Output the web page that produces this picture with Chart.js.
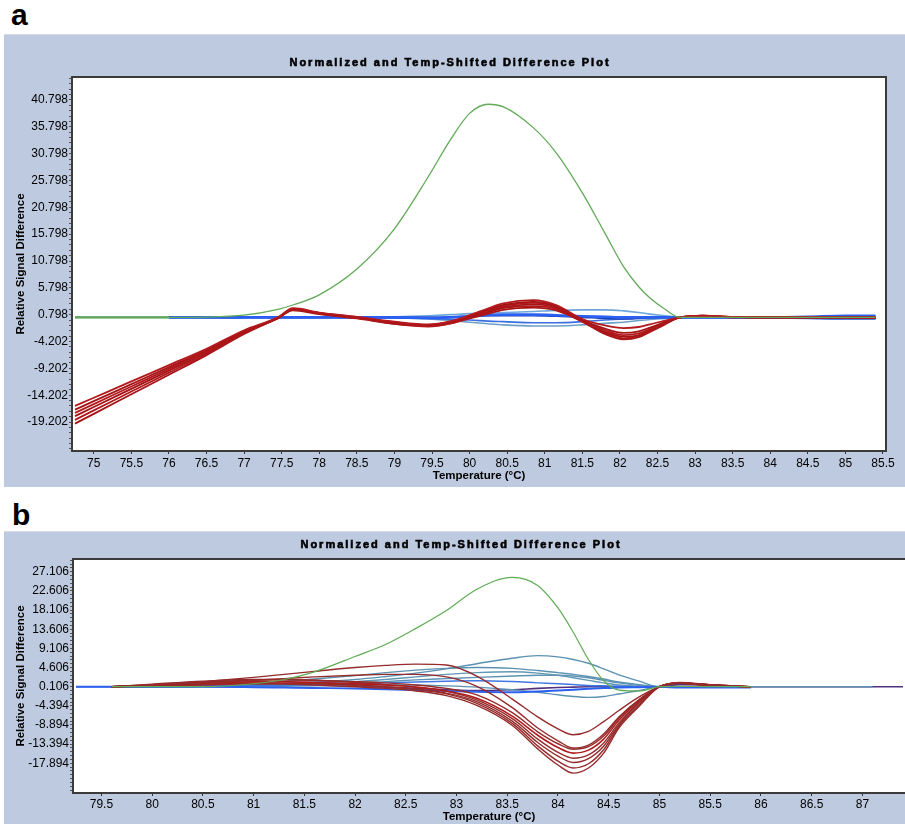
<!DOCTYPE html>
<html>
<head>
<meta charset="utf-8">
<script src="https://cdn.jsdelivr.net/npm/chart.js@4.4.1/dist/chart.umd.min.js"></script>
<style>
  html, body { margin: 0; padding: 0; background: #ffffff; width: 905px; height: 824px; overflow: hidden; }
  .tag { position: absolute; font: bold 30px "Liberation Sans", Arial, sans-serif; line-height: 30px; color: #000; }
  .panel { position: absolute; left: 4px; width: 901px; background: #bdcadf; border-top: 1px solid #d6dae2; }
  #pa { top: 34px; height: 452px; }
  #pb { top: 531px; height: 292px; }
  canvas { display: block; }
</style>
</head>
<body>
<div class="tag" style="left:11px; top:0px;">a</div>
<div class="tag" style="left:12px; top:500px;">b</div>
<div class="panel" id="pa"><canvas id="ca" width="901" height="452"></canvas></div>
<div class="panel" id="pb"><canvas id="cb" width="901" height="292"></canvas></div>
<script>
// ---------- Panel a: temperatures (°C) and difference curves ----------
const tempA = [74.75, 75, 75.5, 76, 76.5, 77, 77.45, 77.65, 78, 78.5, 79, 79.45, 79.75, 80, 80.25, 80.45, 80.85, 81.15, 81.5, 81.8, 82.05, 82.25, 82.4, 82.6, 82.8, 83.1, 83.5, 84, 84.5, 85, 85.4];

const greenA = [0.3, 0.3, 0.3, 0.3, 0.35, 0.7, 1.8, 2.6, 4.5, 9.3, 16.8, 26.5, 33.5, 38.3, 40.0, 39.5, 35.6, 31.0, 23.5, 16.0, 9.7, 6.0, 3.9, 1.8, 0.3, 0.3, 0.3, 0.3, 0.3, 0.3, 0.3];

const redA1 = [-16.2, -14.68, -11.64, -8.61, -5.57, -2.1, 0.3, 2.0, 1.2, 0.4, -0.5, -1.0, -0.4, 0.7, 2.0, 2.9, 3.5, 2.6, 0.0, -1.2, -1.7, -1.5, -1.0, -0.3, 0.3, 0.6, 0.4, 0.3, 0.3, 0.3, 0.2];
const redA2 = [-16.9, -15.32, -12.15, -8.98, -5.82, -2.3, 0.2, 1.9, 1.1, 0.3, -0.6, -1.1, -0.5, 0.5, 1.8, 2.6, 3.2, 2.4, -0.2, -1.8, -2.6, -2.3, -1.6, -0.6, 0.3, 0.6, 0.4, 0.3, 0.3, 0.3, 0.3];
const redA3 = [-17.5, -15.86, -12.58, -9.30, -6.03, -2.4, 0.2, 1.8, 1.0, 0.2, -0.7, -1.3, -0.7, 0.4, 1.6, 2.4, 3.0, 2.3, -0.3, -2.1, -3.0, -2.7, -1.9, -0.7, 0.3, 0.5, 0.4, 0.3, 0.3, 0.4, 0.3];
const redA4 = [-18.1, -16.41, -13.02, -9.63, -6.24, -2.5, 0.1, 1.7, 1.1, 0.3, -0.8, -1.2, -0.6, 0.3, 1.4, 2.2, 2.7, 2.1, -0.4, -2.4, -3.3, -3.0, -2.1, -0.8, 0.3, 0.6, 0.3, 0.3, 0.3, 0.3, 0.2];
const redA5 = [-18.8, -17.04, -13.52, -10.0, -6.49, -2.6, 0.2, 1.8, 1.0, 0.2, -0.9, -1.4, -0.8, 0.2, 1.2, 2.0, 2.4, 1.9, -0.5, -2.6, -3.6, -3.2, -2.3, -0.9, 0.3, 0.5, 0.4, 0.3, 0.3, 0.3, 0.3];
const redA6 = [-19.5, -17.68, -14.03, -10.38, -6.73, -2.8, 0.2, 1.6, 0.9, 0.1, -0.9, -1.3, -0.8, 0.1, 1.0, 1.7, 2.1, 1.6, -0.5, -2.8, -3.8, -3.4, -2.4, -1.0, 0.3, 0.5, 0.3, 0.3, 0.3, 0.3, 0.2];

const blueA1 = [null, null, null, null, 0.3, 0.3, 0.3, 0.3, 0.3, 0.3, 0.4, 0.6, 0.8, 1.0, 1.1, 1.2, 1.4, 1.6, 1.7, 1.7, 1.5, 1.2, 0.9, 0.6, 0.3, 0.3, 0.3, 0.3, 0.4, 0.5, 0.5];
const blueA2 = [null, null, null, null, null, 0.3, 0.3, 0.3, 0.3, 0.3, 0.2, 0.0, -0.3, -0.6, -0.9, -1.1, -1.3, -1.3, -1.1, -0.8, -0.6, -0.3, -0.1, 0.1, 0.3, 0.3, 0.3, 0.3, 0.2, 0.0, 0.0];
const blueA3 = [null, null, null, 0.3, 0.3, 0.3, 0.3, 0.3, 0.3, 0.3, 0.3, 0.2, 0.3, 0.5, 0.7, 0.8, 0.8, 0.7, 0.5, 0.4, 0.3, 0.3, 0.3, 0.3, 0.3, 0.3, 0.3, 0.3, 0.4, 0.6, 0.6];
const blueA4 = [null, null, null, 0.3, 0.3, 0.3, 0.3, 0.3, 0.3, 0.3, 0.2, 0.1, -0.1, -0.2, -0.4, -0.5, -0.7, -0.7, -0.5, -0.2, 0.0, 0.2, 0.3, 0.3, 0.3, 0.3, 0.3, 0.2, 0.1, 0.0, 0.0];
const blueA5 = [null, null, null, null, 0.3, 0.3, 0.3, 0.3, 0.3, 0.3, 0.3, 0.3, 0.4, 0.5, 0.6, 0.6, 0.6, 0.5, 0.3, 0.1, 0.0, 0.1, 0.2, 0.3, 0.3, 0.3, 0.3, 0.3, 0.3, 0.3, 0.2];
const flatA = [0.3, 0.3, 0.3, 0.3, 0.3, 0.3, null, null, null, null, null, null, null, null, null, null, null, null, null, null, null, null, null, null, null, null, null, null, null, null, null];

const xTicksA = [75, 75.5, 76, 76.5, 77, 77.5, 78, 78.5, 79, 79.5, 80, 80.5, 81, 81.5, 82, 82.5, 83, 83.5, 84, 84.5, 85, 85.5];
const yLabelsA = [-19.202, -14.202, -9.202, -4.202, 0.798, 5.798, 10.798, 15.798, 20.798, 25.798, 30.798, 35.798, 40.798];

// ---------- Panel b ----------
const tempB = [79.25, 79.6, 80, 80.5, 81, 81.3, 81.6, 82, 82.3, 82.6, 82.9, 83.2, 83.55, 83.8, 84, 84.15, 84.3, 84.45, 84.6, 84.8, 85, 85.2, 85.5, 85.9, 86.3, 87.1, 87.4];

const greenB = [null, 0.1, 0.1, 0.1, 0.8, 1.8, 3.6, 7.2, 10.0, 13.8, 18.0, 23.0, 25.8, 23.9, 18.6, 12.9, 6.5, 1.5, -0.7, -0.9, 0.1, 0.2, 0.1, 0.1, null, null, null];

const redB1 = [null, 0.1, 0.5, 1.3, 2.3, 3.0, 3.7, 4.6, 5.1, 5.4, 5.2, 2.6, -2.8, -7.0, -9.8, -11.2, -10.4, -8.1, -5.5, -2.3, 0.1, 1.1, 0.6, 0.1, null, null, null];
const redB2 = [null, 0.1, 0.4, 1.0, 1.6, 2.0, 2.4, 2.8, 3.0, 3.0, 2.4, 0.2, -4.8, -9.6, -12.6, -14.3, -13.6, -11.0, -7.0, -2.9, 0.1, 1.0, 0.5, 0.1, null, null, null];
const redB3 = [null, 0.1, 0.6, 1.2, 1.6, 1.7, 1.6, 1.3, 1.0, 0.5, -0.3, -1.8, -6.0, -10.5, -13.3, -14.6, -14.0, -11.5, -7.3, -3.0, 0.1, 0.9, 0.4, 0.1, null, null, null];
const redB4 = [null, 0.1, 0.4, 0.9, 1.2, 1.2, 1.1, 0.8, 0.5, 0.0, -0.9, -2.6, -6.8, -11.3, -14.2, -15.5, -14.8, -12.2, -7.8, -3.2, 0.1, 1.0, 0.5, 0.1, null, null, null];
const redB5 = [null, 0.1, 0.7, 1.4, 1.8, 1.8, 1.6, 1.1, 0.6, 0.0, -1.0, -3.0, -7.4, -12.2, -15.3, -16.7, -15.9, -13.1, -8.4, -3.5, 0.1, 0.9, 0.4, 0.1, null, null, null];
const redB6 = [null, 0.1, 0.3, 0.7, 0.9, 0.9, 0.8, 0.4, 0.0, -0.5, -1.4, -3.4, -8.0, -13.0, -16.2, -17.7, -16.8, -13.9, -8.8, -3.8, 0.1, 1.0, 0.5, 0.1, null, null, null];
const redB7 = [null, 0.1, 0.5, 1.0, 1.3, 1.3, 1.1, 0.6, 0.1, -0.5, -1.6, -3.8, -8.5, -13.8, -17.4, -19.0, -18.0, -14.7, -9.2, -4.2, 0.1, 0.9, 0.4, 0.1, null, null, null];
const redB8 = [null, 0.1, 0.2, 0.5, 0.7, 0.7, 0.5, 0.1, -0.3, -0.9, -2.0, -4.3, -9.0, -14.5, -18.3, -20.2, -19.0, -15.5, -9.6, -4.5, 0.1, 1.0, 0.5, 0.1, null, null, null];

const tealB1 = [null, 0.1, 0.1, 0.2, 0.5, 0.8, 1.2, 1.8, 2.5, 3.3, 4.3, 5.5, 6.8, 7.4, 7.1, 6.5, 5.6, 4.3, 2.9, 1.4, 0.1, 0.1, 0.1, 0.1, 0.1, 0.1, null];
const tealB2 = [null, 0.1, 0.2, 0.5, 1.0, 1.4, 1.9, 2.7, 3.4, 4.0, 4.4, 4.6, 4.4, 3.9, 3.4, 3.0, 2.5, 1.9, 1.2, 0.6, 0.1, 0.1, 0.1, 0.1, null, null, null];
const tealB3 = [null, 0.1, 0.1, 0.2, 0.4, 0.6, 0.9, 1.3, 1.8, 2.4, 3.0, 3.4, 3.6, 3.3, 2.8, 2.2, 1.6, 1.0, 0.5, 0.2, 0.1, 0.1, 0.1, 0.1, null, null, null];
const tealB4 = [null, 0.1, 0.1, 0.2, 0.3, 0.4, 0.6, 0.9, 1.3, 1.7, 2.0, 2.3, 2.6, 2.8, 2.8, 2.6, 2.2, 1.6, 1.0, 0.4, 0.1, 0.1, 0.1, 0.1, null, null, null];
const tealB5 = [null, 0.1, 0.1, 0.1, 0.1, 0.2, 0.3, 0.4, 0.5, 0.5, 0.3, 0.0, -0.6, -1.2, -1.8, -2.2, -2.4, -2.2, -1.6, -0.8, 0.1, 0.1, 0.1, 0.1, null, null, null];
const blueB1 = [0.1, 0.1, 0.1, 0.1, 0.0, -0.1, -0.2, -0.3, -0.5, -0.7, -0.9, -1.1, -1.2, -1.0, -0.8, -0.6, -0.4, -0.2, -0.1, 0.0, 0.1, -0.1, -0.1, -0.1, null, null, null];
const blueB2 = [0.1, 0.1, 0.2, 0.3, 0.4, 0.5, 0.6, 0.8, 1.0, 1.2, 1.4, 1.5, 1.3, 1.0, 0.8, 0.6, 0.4, 0.3, 0.2, 0.1, 0.1, 0.1, 0.1, 0.1, null, null, null];
const purpleB = [null, 0.1, 0.4, 0.6, 0.8, 0.7, 0.5, 0.3, 0.0, -0.3, -0.6, -0.8, -0.6, -0.3, -0.1, 0.0, 0.1, 0.1, 0.1, 0.1, 0.1, 0.6, 0.5, 0.1, 0.1, 0.1, 0.1];

const xTicksB = [79.5, 80, 80.5, 81, 81.5, 82, 82.5, 83, 83.5, 84, 84.5, 85, 85.5, 86, 86.5, 87];
const yLabelsB = [-17.894, -13.394, -8.894, -4.394, 0.106, 4.606, 9.106, 13.606, 18.106, 22.606, 27.106];

// ---------- helpers ----------
const FONT = '"Liberation Sans", Arial, sans-serif';

function series(temps, vals, color, width) {
  return {
    data: temps.map((t, i) => ({ x: t, y: vals[i] })).filter(p => p.y !== null),
    borderColor: color,
    borderWidth: width,
    pointRadius: 0,
    fill: false,
    cubicInterpolationMode: 'monotone'
  };
}

// major labels plus four minor marks between them
function withMinor(labels, step, lo, hi) {
  const out = [];
  const sub = step / 5;
  for (let v = labels[0] - 10 * sub; v <= hi; v += sub) {
    if (v >= lo) out.push(Math.round(v * 1000) / 1000);
  }
  return out;
}

const plotBack = {
  id: 'plotBack',
  beforeDraw(chart) {
    const { ctx, chartArea: a } = chart;
    ctx.save();
    ctx.fillStyle = '#ffffff';
    ctx.fillRect(a.left, a.top, a.right - a.left, a.bottom - a.top);
    ctx.restore();
  }
};

const frame = {
  id: 'frame',
  afterDatasetsDraw(chart, args, opts) {
    const { ctx, chartArea: a } = chart;
    ctx.save();
    ctx.strokeStyle = '#3b3b3b';
    ctx.lineWidth = 2;
    ctx.beginPath();
    if (opts.closed) {
      ctx.rect(a.left, a.top, a.right - a.left, a.bottom - a.top);
    } else {
      ctx.moveTo(chart.width + 2, a.top);
      ctx.lineTo(a.left, a.top);
      ctx.lineTo(a.left, a.bottom);
      ctx.lineTo(chart.width + 2, a.bottom);
    }
    ctx.stroke();
    ctx.restore();
  }
};

// heavy, widely spaced plot heading
const plotTitle = {
  id: 'plotTitle',
  afterDraw(chart, args, opts) {
    const ctx = chart.ctx;
    ctx.save();
    ctx.font = 'bold 11px ' + FONT;
    ctx.letterSpacing = '2px';
    ctx.fillStyle = '#000000';
    ctx.strokeStyle = '#000000';
    ctx.lineWidth = 0.6;
    ctx.textAlign = 'center';
    ctx.textBaseline = 'middle';
    ctx.fillText(opts.text, opts.x, opts.y);
    ctx.strokeText(opts.text, opts.x, opts.y);
    ctx.restore();
  }
};

function makeChart(id, cfg) {
  return new Chart(document.getElementById(id), {
    type: 'line',
    data: { datasets: cfg.datasets },
    plugins: [plotBack, frame, plotTitle],
    options: {
      responsive: false,
      animation: false,
      events: [],
      layout: { padding: cfg.padding },
      plugins: {
        legend: { display: false },
        tooltip: { enabled: false },
        frame: { closed: cfg.closed },
        plotTitle: { text: 'Normalized and Temp-Shifted Difference Plot', x: cfg.titleX, y: cfg.titleY }
      },
      scales: {
        x: {
          type: 'linear',
          min: cfg.xMin, max: cfg.xMax,
          afterBuildTicks: s => { s.ticks = cfg.xTicks.map(v => ({ value: v })); },
          afterFit: s => { s.height = cfg.xHeight; },
          border: { display: false },
          grid: { drawOnChartArea: false, drawTicks: true, tickLength: 3, tickColor: '#333333', color: '#333333' },
          ticks: { autoSkip: false, maxRotation: 0, padding: cfg.xPad, color: '#000000', font: { family: FONT, size: 12 },
                   callback: v => String(v) },
          title: { display: true, text: 'Temperature (°C)', color: '#000000',
                   font: { family: FONT, size: 11.5, weight: 'bold' }, padding: { top: 0, bottom: cfg.xTitlePad } }
        },
        y: {
          type: 'linear',
          min: cfg.yMin, max: cfg.yMax,
          afterBuildTicks: s => { s.ticks = withMinor(cfg.yLabels, cfg.yStep, cfg.yMin, cfg.yMax).map(v => ({ value: v })); },
          afterFit: s => { s.width = cfg.yWidth; },
          border: { display: false },
          grid: { drawOnChartArea: false, drawTicks: true, tickLength: 3, tickColor: '#555555', color: '#555555' },
          ticks: { autoSkip: false, padding: 1, color: '#000000', font: { family: FONT, size: 12 },
                   callback: v => {
                     const m = cfg.yLabels.find(t => Math.abs(t - v) < 1e-6);
                     return m === undefined ? '' : m.toFixed(3);
                   } },
          title: { display: true, text: 'Relative Signal Difference', color: '#000000',
                   font: { family: FONT, size: 11.5, weight: 'bold' }, padding: { top: 10, bottom: 0 } }
        }
      }
    }
  });
}

// ---------- panel a ----------
const RED_A = '#b3191c';
makeChart('ca', {
  padding: { top: 42, right: 19, left: 0, bottom: 0 },
  closed: true, titleX: 446, titleY: 28,
  xMin: 74.71, xMax: 85.54, xTicks: xTicksA, xHeight: 36, xPad: 2, xTitlePad: 4,
  yMin: -24.6, yMax: 45.08, yLabels: yLabelsA, yStep: 5, yWidth: 68,
  datasets: [
    series(tempA, greenA, '#62aa58', 1.3),
    series(tempA, redA1, RED_A, 1.8),
    series(tempA, redA2, '#a51416', 1.8),
    series(tempA, redA3, RED_A, 1.8),
    series(tempA, redA4, '#a51416', 1.8),
    series(tempA, redA5, RED_A, 1.8),
    series(tempA, redA6, '#a51416', 1.8),
    series(tempA, blueA3, '#2b5ff2', 2.6),
    series(tempA, blueA5, '#1d3fb4', 1.6),
    series(tempA, blueA4, '#3a6fe2', 1.6),
    series(tempA, blueA1, '#6ea6dc', 1.6),
    series(tempA, blueA2, '#6f9fc8', 1.6),
    series(tempA, flatA, '#3b9150', 2.2)
  ]
});

// ---------- panel b ----------
const RED_B = '#952b2b';
makeChart('cb', {
  padding: { top: 27, right: 0, left: 0, bottom: 0 },
  closed: false, titleX: 457, titleY: 13,
  xMin: 79.22, xMax: 87.42, xTicks: xTicksB, xHeight: 31, xPad: 1, xTitlePad: 0,
  yMin: -24.87, yMax: 30.1, yLabels: yLabelsB, yStep: 4.5, yWidth: 69,
  datasets: [
    series(tempB, greenB, '#5fac55', 1.2),
    series(tempB, redB1, RED_B, 1.4),
    series(tempB, redB2, RED_B, 1.4),
    series(tempB, redB3, RED_B, 1.4),
    series(tempB, redB4, '#b01c1c', 1.6),
    series(tempB, redB5, RED_B, 1.4),
    series(tempB, redB6, RED_B, 1.4),
    series(tempB, redB7, RED_B, 1.4),
    series(tempB, redB8, RED_B, 1.4),
    series(tempB, blueB1, '#2c60f0', 2.0),
    series(tempB, blueB2, '#4077e2', 1.5),
    series(tempB, tealB1, '#5b92b2', 1.4),
    series(tempB, tealB2, '#5b92b2', 1.4),
    series(tempB, tealB3, '#6298b6', 1.4),
    series(tempB, tealB4, '#5b92b2', 1.4),
    series(tempB, tealB5, '#5b92b2', 1.4),
    series(tempB, purpleB, '#52307e', 1.6)
  ]
});
</script>
</body>
</html>
